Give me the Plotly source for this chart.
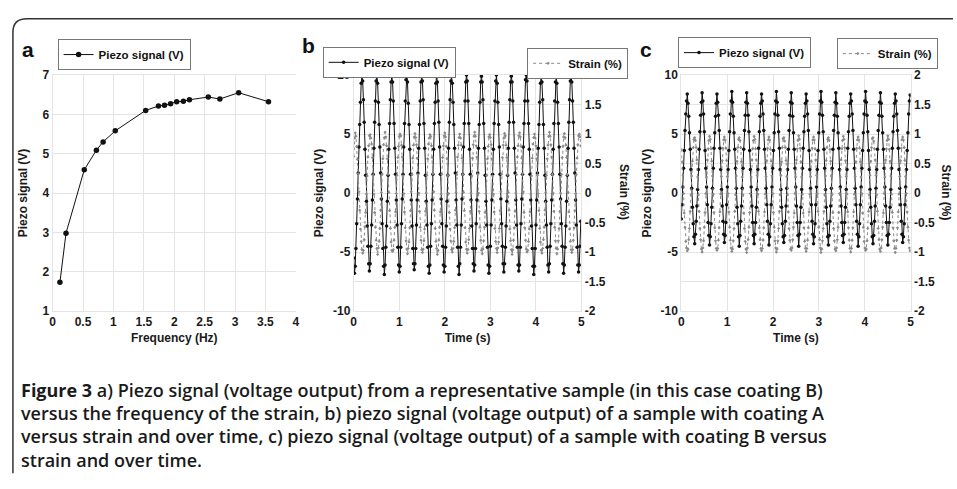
import plotly.graph_objects as go

# ---------------- data ----------------
# panel a: piezo signal vs strain frequency
freq_a = [0.12, 0.22, 0.52, 0.72, 0.83, 1.03, 1.53, 1.74, 1.84, 1.94, 2.04, 2.15, 2.25, 2.56, 2.75, 3.06, 3.55]
piezo_a = [1.73, 2.98, 4.59, 5.09, 5.30, 5.58, 6.10, 6.21, 6.23, 6.27, 6.32, 6.33, 6.37, 6.44, 6.39, 6.55, 6.32]

# panel b (coating A): sampled signals, one row per strain cycle
DT_B = 0.0164   # s between samples
b_piezo_rows = [
    [-5.5, -6.8, -6.2, -4.7, -2.6, -0.5, 1.7, 3.9, 5.8, 7.7, 9.3, 9.9, 9.5, 7.9, 6.0, 3.7, 1.5, -0.7, -2.8, -4.5],
    [-6.0, -6.6, -6.0, -4.5, -2.7, -0.6, 1.6, 3.8, 6.0, 7.8, 9.5, 10.0, 9.3, 7.7, 5.8, 3.9, 1.7, -0.5, -2.6, -4.7],
    [-6.2, -6.9, -6.1, -4.6, -2.8, -0.7, 1.5, 3.7, 5.9, 7.9, 9.4, 9.9, 9.4, 7.8, 5.9, 3.8, 1.6, -0.6, -2.7, -4.6],
    [-6.1, -6.7, -6.2, -4.6, -2.6, -0.5, 1.6, 3.9, 5.9, 7.8, 9.6, 10.0, 9.4, 7.6, 5.8, 3.7, 1.6, -0.6, -2.8, -4.7],
    [-6.0, -6.5, -6.0, -4.7, -2.7, -0.6, 1.7, 3.8, 5.8, 7.8, 9.4, 9.9, 9.5, 7.9, 5.9, 3.8, 1.5, -0.7, -2.7, -4.6],
    [-6.2, -6.8, -6.1, -4.5, -2.6, -0.6, 1.6, 3.7, 5.9, 7.7, 9.3, 10.0, 9.4, 7.8, 6.0, 3.9, 1.6, -0.5, -2.6, -4.5],
    [-6.1, -6.7, -6.2, -4.6, -2.8, -0.7, 1.5, 3.8, 6.0, 7.9, 9.5, 9.9, 9.3, 7.7, 5.8, 3.8, 1.7, -0.6, -2.7, -4.6],
    [-6.2, -6.9, -6.0, -4.6, -2.7, -0.5, 1.6, 3.9, 5.9, 7.8, 9.4, 10.0, 9.5, 7.8, 5.9, 3.7, 1.6, -0.6, -2.8, -4.7],
    [-6.0, -6.6, -6.1, -4.7, -2.6, -0.6, 1.7, 3.8, 5.8, 7.7, 9.4, 9.9, 9.4, 7.9, 5.9, 3.8, 1.5, -0.7, -2.7, -4.6],
    [-6.1, -6.8, -6.2, -4.5, -2.7, -0.6, 1.6, 3.7, 5.9, 7.8, 9.5, 10.0, 9.3, 7.7, 5.8, 3.9, 1.6, -0.5, -2.6, -4.5],
    [-6.0, -6.7, -6.0, -4.6, -2.8, -0.7, 1.5, 3.8, 6.0, 7.9, 9.4, 9.9, 9.4, 7.8, 6.0, 3.8, 1.7, -0.6, -2.7, -4.6],
    [-6.1, -6.6, -6.1, -4.6, -2.6, -0.5, 1.6, 3.9, 5.9, 7.8, 9.6, 10.0, 9.5, 7.8, 5.9, 3.7, 1.6, -0.6, -2.8, -4.7],
    [-6.2, -6.9, -6.2, -4.7, -2.7, -0.6, 1.7, 3.8, 5.8, 7.7, 9.3, 9.9, 9.4, 7.9, 5.8, 3.8, 1.5, -0.7, -2.7, -4.6],
    [-6.1, -6.7, -6.0, -4.5, -2.6, -0.6, 1.6, 3.7, 5.9, 7.8, 9.4, 10.0, 9.3, 7.7, 5.9, 3.9, 1.6, -0.5, -2.6, -4.5],
    [-6.0, -6.8, -6.1, -4.6, -2.8, -0.7, 1.5, 3.8, 6.0, 7.9, 9.5, 9.9, 9.4, 7.8, 6.0, 3.8, 1.7, -0.6, -2.7, -4.6],
    [-6.1, -6.7, -6.1, -4.5, -2.4],
]
b_strain_rows = [
    [0.62, 0.93, 1.02, 0.96, 0.79, 0.57, 0.33, 0.02, -0.29, -0.61, -0.82, -0.96, -1.02, -0.97, -0.79, -0.57, -0.33, -0.02, 0.29, 0.61],
    [0.80, 0.97, 0.99, 0.93, 0.83, 0.60, 0.30, -0.02, -0.33, -0.58, -0.80, -0.94, -1.04, -0.93, -0.82, -0.60, -0.29, 0.01, 0.32, 0.58],
    [0.82, 0.94, 1.03, 0.95, 0.80, 0.58, 0.32, 0.01, -0.30, -0.60, -0.83, -0.97, -0.99, -0.96, -0.80, -0.58, -0.32, -0.01, 0.30, 0.60],
    [0.79, 0.96, 1.00, 0.97, 0.81, 0.61, 0.29, -0.01, -0.32, -0.59, -0.81, -0.95, -1.03, -0.94, -0.83, -0.59, -0.30, 0.02, 0.31, 0.59],
    [0.81, 0.95, 1.01, 0.94, 0.82, 0.59, 0.31, 0.00, -0.31, -0.58, -0.80, -0.96, -1.01, -0.95, -0.81, -0.61, -0.31, 0.00, 0.30, 0.58],
    [0.83, 0.93, 0.99, 0.96, 0.80, 0.60, 0.33, 0.02, -0.29, -0.60, -0.82, -0.94, -1.04, -0.97, -0.80, -0.58, -0.32, -0.02, 0.32, 0.60],
    [0.80, 0.97, 1.02, 0.95, 0.79, 0.58, 0.30, -0.01, -0.33, -0.61, -0.81, -0.96, -1.00, -0.94, -0.82, -0.59, -0.29, 0.01, 0.31, 0.61],
    [0.81, 0.94, 1.00, 0.93, 0.81, 0.59, 0.31, 0.01, -0.30, -0.59, -0.83, -0.95, -1.02, -0.96, -0.79, -0.60, -0.31, 0.00, 0.29, 0.59],
    [0.82, 0.96, 1.03, 0.96, 0.80, 0.61, 0.32, 0.00, -0.31, -0.58, -0.80, -0.97, -1.03, -0.95, -0.81, -0.58, -0.33, -0.01, 0.30, 0.58],
    [0.79, 0.95, 0.99, 0.94, 0.82, 0.58, 0.29, -0.02, -0.32, -0.60, -0.82, -0.94, -1.01, -0.93, -0.83, -0.60, -0.30, 0.02, 0.32, 0.60],
    [0.81, 0.93, 1.01, 0.97, 0.81, 0.60, 0.31, 0.01, -0.29, -0.61, -0.81, -0.96, -1.04, -0.96, -0.80, -0.59, -0.31, 0.00, 0.31, 0.61],
    [0.80, 0.97, 1.02, 0.95, 0.79, 0.59, 0.33, 0.02, -0.33, -0.59, -0.80, -0.95, -1.00, -0.97, -0.82, -0.61, -0.32, -0.02, 0.29, 0.59],
    [0.83, 0.94, 1.00, 0.93, 0.80, 0.58, 0.30, -0.01, -0.30, -0.60, -0.83, -0.97, -1.02, -0.94, -0.79, -0.58, -0.29, 0.01, 0.30, 0.58],
    [0.81, 0.96, 1.03, 0.96, 0.82, 0.61, 0.32, 0.00, -0.31, -0.58, -0.81, -0.94, -1.03, -0.95, -0.81, -0.60, -0.31, 0.00, 0.32, 0.60],
    [0.79, 0.95, 1.01, 0.94, 0.81, 0.60, 0.31, 0.01, -0.32, -0.61, -0.82, -0.96, -1.01, -0.96, -0.80, -0.59, -0.30, -0.01, 0.31, 0.59],
    [0.82, 0.97, 1.00, 0.95, 0.80],
]

# panel c (coating B)
DT_C = 0.0162
c_piezo_rows = [
    [-2.2, -1.0, 0.5, 2.1, 3.6, 5.3, 6.7, 7.8, 8.4, 7.6, 6.5, 5.1, 3.7, 2.0, 0.4, -1.2, -2.6, -3.7, -4.3, -3.5],
    [-2.4, -1.1, 0.3, 2.0, 3.7, 5.2, 6.6, 7.7, 8.5, 7.8, 6.7, 5.2, 3.6, 2.1, 0.5, -1.0, -2.5, -3.6, -4.4, -3.7],
    [-2.6, -1.2, 0.4, 2.1, 3.8, 5.1, 6.5, 7.6, 8.4, 7.7, 6.6, 5.3, 3.8, 2.0, 0.3, -1.1, -2.4, -3.5, -4.2, -3.6],
    [-2.5, -1.0, 0.5, 2.0, 3.6, 5.2, 6.7, 7.8, 8.6, 7.7, 6.5, 5.1, 3.7, 2.1, 0.4, -1.2, -2.6, -3.7, -4.5, -3.6],
    [-2.4, -1.1, 0.4, 2.1, 3.7, 5.3, 6.6, 7.7, 8.5, 7.6, 6.6, 5.2, 3.6, 2.0, 0.5, -1.1, -2.5, -3.6, -4.3, -3.5],
    [-2.5, -1.2, 0.3, 2.0, 3.8, 5.2, 6.5, 7.6, 8.4, 7.8, 6.7, 5.3, 3.7, 2.1, 0.4, -1.0, -2.4, -3.5, -4.4, -3.7],
    [-2.6, -1.0, 0.5, 2.1, 3.6, 5.1, 6.7, 7.8, 8.6, 7.7, 6.6, 5.2, 3.8, 2.0, 0.3, -1.2, -2.6, -3.7, -4.2, -3.6],
    [-2.4, -1.1, 0.4, 2.0, 3.7, 5.3, 6.6, 7.7, 8.5, 7.6, 6.5, 5.1, 3.7, 2.1, 0.5, -1.1, -2.5, -3.6, -4.5, -3.5],
    [-2.5, -1.2, 0.3, 2.1, 3.8, 5.2, 6.5, 7.6, 8.4, 7.8, 6.7, 5.3, 3.6, 2.0, 0.4, -1.0, -2.4, -3.5, -4.3, -3.7],
    [-2.6, -1.0, 0.5, 2.0, 3.6, 5.1, 6.7, 7.8, 8.6, 7.7, 6.6, 5.2, 3.7, 2.1, 0.3, -1.2, -2.6, -3.7, -4.4, -3.6],
    [-2.4, -1.1, 0.4, 2.1, 3.7, 5.3, 6.6, 7.7, 8.5, 7.6, 6.5, 5.1, 3.8, 2.0, 0.5, -1.1, -2.5, -3.6, -4.2, -3.5],
    [-2.5, -1.2, 0.3, 2.0, 3.8, 5.2, 6.5, 7.6, 8.4, 7.8, 6.7, 5.3, 3.7, 2.1, 0.4, -1.0, -2.4, -3.5, -4.5, -3.7],
    [-2.6, -1.0, 0.5, 2.1, 3.6, 5.1, 6.7, 7.8, 8.6, 7.7, 6.6, 5.2, 3.6, 2.0, 0.3, -1.2, -2.6, -3.7, -4.3, -3.6],
    [-2.4, -1.1, 0.4, 2.0, 3.7, 5.3, 6.6, 7.7, 8.5, 7.6, 6.5, 5.1, 3.7, 2.1, 0.5, -1.1, -2.5, -3.6, -4.4, -3.5],
    [-2.5, -1.2, 0.3, 2.1, 3.8, 5.2, 6.5, 7.6, 8.4, 7.8, 6.7, 5.3, 3.8, 2.0, 0.4, -1.0, -2.4, -3.5, -4.2, -3.7],
    [-2.6, -1.0, 0.5, 2.0, 3.6, 5.1, 6.7, 7.8, 8.3],
]
c_strain_rows = [
    [0.74, 0.53, 0.30, -0.01, -0.34, -0.58, -0.82, -0.93, -0.98, -0.95, -0.79, -0.60, -0.31, -0.03, 0.29, 0.54, 0.77, 0.91, 0.94, 0.89],
    [0.77, 0.56, 0.27, -0.03, -0.31, -0.60, -0.79, -0.95, -1.00, -0.93, -0.81, -0.58, -0.33, -0.01, 0.27, 0.56, 0.75, 0.89, 0.96, 0.91],
    [0.75, 0.54, 0.29, -0.02, -0.33, -0.59, -0.81, -0.94, -0.97, -0.94, -0.80, -0.59, -0.32, -0.02, 0.28, 0.55, 0.76, 0.90, 0.95, 0.90],
    [0.76, 0.55, 0.28, -0.01, -0.32, -0.58, -0.80, -0.93, -0.99, -0.95, -0.81, -0.60, -0.31, -0.03, 0.29, 0.54, 0.77, 0.91, 0.94, 0.89],
    [0.77, 0.53, 0.27, -0.03, -0.34, -0.60, -0.82, -0.95, -1.01, -0.93, -0.79, -0.58, -0.33, -0.01, 0.27, 0.56, 0.75, 0.89, 0.96, 0.91],
    [0.75, 0.56, 0.30, -0.02, -0.31, -0.59, -0.79, -0.94, -0.98, -0.94, -0.80, -0.59, -0.32, -0.02, 0.28, 0.55, 0.76, 0.90, 0.95, 0.90],
    [0.74, 0.54, 0.29, -0.01, -0.33, -0.58, -0.81, -0.93, -1.00, -0.95, -0.81, -0.60, -0.31, -0.03, 0.30, 0.53, 0.77, 0.92, 0.94, 0.88],
    [0.77, 0.55, 0.28, -0.03, -0.32, -0.60, -0.80, -0.95, -0.97, -0.93, -0.79, -0.58, -0.34, -0.01, 0.27, 0.56, 0.75, 0.89, 0.97, 0.91],
    [0.76, 0.53, 0.27, -0.02, -0.34, -0.59, -0.82, -0.94, -0.99, -0.94, -0.80, -0.59, -0.32, -0.02, 0.28, 0.54, 0.76, 0.90, 0.95, 0.90],
    [0.75, 0.56, 0.30, -0.01, -0.31, -0.58, -0.79, -0.93, -1.01, -0.95, -0.81, -0.60, -0.31, -0.03, 0.29, 0.55, 0.77, 0.91, 0.94, 0.89],
    [0.74, 0.54, 0.29, -0.03, -0.33, -0.60, -0.81, -0.95, -0.98, -0.93, -0.79, -0.58, -0.33, -0.01, 0.27, 0.56, 0.75, 0.89, 0.96, 0.91],
    [0.77, 0.55, 0.28, -0.02, -0.32, -0.59, -0.80, -0.94, -1.00, -0.94, -0.80, -0.59, -0.32, -0.02, 0.28, 0.53, 0.76, 0.90, 0.95, 0.90],
    [0.76, 0.53, 0.27, -0.01, -0.34, -0.58, -0.82, -0.93, -0.97, -0.95, -0.81, -0.60, -0.31, -0.03, 0.30, 0.54, 0.77, 0.92, 0.94, 0.88],
    [0.75, 0.56, 0.30, -0.03, -0.31, -0.60, -0.79, -0.95, -0.99, -0.93, -0.79, -0.58, -0.34, -0.01, 0.27, 0.56, 0.75, 0.89, 0.97, 0.91],
    [0.74, 0.54, 0.29, -0.02, -0.33, -0.59, -0.81, -0.94, -1.01, -0.94, -0.80, -0.59, -0.32, -0.02, 0.28, 0.55, 0.76, 0.90, 0.95, 0.90],
    [0.77, 0.55, 0.28, -0.01, -0.32, -0.58, -0.80, -0.93, -0.98],
]

b_piezo = [v for row in b_piezo_rows for v in row]
b_strain = [v for row in b_strain_rows for v in row]
c_piezo = [v for row in c_piezo_rows for v in row]
c_strain = [v for row in c_strain_rows for v in row]

a_xticks = [0, 0.5, 1, 1.5, 2, 2.5, 3, 3.5, 4]
a_yticks = [1, 2, 3, 4, 5, 6, 7]
time_ticks = [0, 1, 2, 3, 4, 5]
piezo_ticks = [-10, -5, 0, 5, 10]
strain_ticks = [-2, -1.5, -1, -0.5, 0, 0.5, 1, 1.5, 2]

caption_lines = [
    "<b>Figure 3</b> a) Piezo signal (voltage output) from a representative sample (in this case coating B)",
    "versus the frequency of the strain, b) piezo signal (voltage output) of a sample with coating A",
    "versus strain and over time, c) piezo signal (voltage output) of a sample with coating B versus",
    "strain and over time.",
]

# ---------------- layout helpers ----------------
W, H = 957, 489
def px(p):
    return p / W
def py(p):
    return 1 - p / H

AX_FONT = dict(family="Liberation Sans, Arial", size=12, color="#1a1a1a", weight=700)
GRID = "#e4e4e4"
PLOT_Y = [py(313), py(70)]

def xax(dom, rng, ticks, title, anchor):
    return dict(domain=dom, range=rng, tickvals=ticks, ticktext=[f"{t:g}" for t in ticks],
                showgrid=True, gridcolor=GRID, gridwidth=1, zeroline=False,
                showline=True, linecolor=GRID, mirror=True, ticks="",
                tickfont=AX_FONT, anchor=anchor,
                title=dict(text=title, font=AX_FONT, standoff=5))

def yax(rng, ticks, title, anchor, grid=True, standoff=6):
    return dict(domain=PLOT_Y, range=rng, tickvals=ticks, ticktext=[f"{t:g}" for t in ticks],
                showgrid=grid, gridcolor=GRID, gridwidth=1, zeroline=False,
                showline=True, linecolor=GRID, ticks="", tickfont=AX_FONT, anchor=anchor,
                title=dict(text=title, font=AX_FONT, standoff=standoff))

PIEZO_STYLE = dict(mode="lines+markers", line=dict(color="#111111", width=1),
                   marker=dict(color="#111111", size=3.5, symbol="circle"))
STRAIN_STYLE = dict(mode="lines+markers", line=dict(color="#8a8a8a", width=1, dash="dot"),
                    marker=dict(color="#8a8a8a", size=2.5, symbol="diamond"))

fig = go.Figure()
fig.add_trace(go.Scatter(x=freq_a, y=piezo_a, name="Piezo signal (V)", xaxis="x", yaxis="y",
                         mode="lines+markers", line=dict(color="#111111", width=1),
                         marker=dict(color="#111111", size=5.5), legend="legend"))
fig.add_trace(go.Scatter(y=b_piezo, x0=0, dx=DT_B, name="Piezo signal (V)", xaxis="x2", yaxis="y2",
                         legend="legend2", **PIEZO_STYLE))
fig.add_trace(go.Scatter(y=b_strain, x0=0, dx=DT_B, name="Strain (%)", xaxis="x2", yaxis="y3",
                         legend="legend3", **STRAIN_STYLE))
fig.add_trace(go.Scatter(y=c_piezo, x0=0, dx=DT_C, name="Piezo signal (V)", xaxis="x3", yaxis="y4",
                         legend="legend4", **PIEZO_STYLE))
fig.add_trace(go.Scatter(y=c_strain, x0=0, dx=DT_C, name="Strain (%)", xaxis="x3", yaxis="y5",
                         legend="legend5", **STRAIN_STYLE))

def legend_at(x0, y0):
    return dict(x=px(x0), y=py(y0), xanchor="left", yanchor="top", xref="paper", yref="paper",
                bgcolor="white", bordercolor="#777777", borderwidth=1,
                font=dict(family="Liberation Sans, Arial", size=11.5, color="#111111", weight=700),
                itemwidth=30, tracegroupgap=0)

layout = dict(
    width=W, height=H, autosize=False, margin=dict(l=0, r=0, t=0, b=0),
    paper_bgcolor="white", plot_bgcolor="white", showlegend=True,
    xaxis=xax([px(50), px(295)], [0, 4], a_xticks, "Frequency (Hz)", "y"),
    yaxis=yax([1, 7], a_yticks, "Piezo signal (V)", "x", standoff=12),
    xaxis2=xax([px(353.3), px(582.7)], [0, 5], time_ticks, "Time (s)", "y2"),
    yaxis2=yax([-10, 10], piezo_ticks, "Piezo signal (V)", "x2", grid=False),
    yaxis3=dict(yax([-2, 2], strain_ticks, "", "x2"), overlaying="y2", side="right"),
    xaxis3=xax([px(683.3), px(914.3)], [0, 5], time_ticks, "Time (s)", "y4"),
    yaxis4=yax([-10, 10], piezo_ticks, "Piezo signal (V)", "x3", grid=False),
    yaxis5=dict(yax([-2, 2], strain_ticks, "", "x3"), overlaying="y4", side="right"),
    legend=legend_at(55, 33),
    legend2=legend_at(322, 41),
    legend3=legend_at(528, 42),
    legend4=legend_at(680, 31),
    legend5=legend_at(840, 32),
)
fig.update_layout(**layout)

ann = []
for letter, (lx, ly) in {"a": (25, 44), "b": (308, 40), "c": (648, 44)}.items():
    ann.append(dict(text=letter, x=px(lx), y=py(ly), xref="paper", yref="paper", showarrow=False,
                    xanchor="center", yanchor="middle",
                    font=dict(family="Liberation Sans, Arial", size=21, color="#111111", weight=700)))
for tx in (626, 950):
    ann.append(dict(text="Strain (%)", x=px(tx), y=py(191), xref="paper", yref="paper", showarrow=False,
                    xanchor="center", yanchor="middle", textangle=90, font=AX_FONT))
for i, line in enumerate(caption_lines):
    ann.append(dict(text=line, x=px(16), y=py(394 + 24 * i), xref="paper", yref="paper",
                    xanchor="left", yanchor="middle", showarrow=False, align="left",
                    font=dict(family="Open Sans", size=18, color="#1a1a1a", weight=600)))
fig.update_layout(annotations=ann)

fig.add_shape(type="path", xref="paper", yref="paper",
              path=f"M {px(10)} {py(480)} L {px(10)} {py(26)} Q {px(10)} {py(12)} {px(24)} {py(12)} L 1 {py(12)}",
              line=dict(color="#333333", width=1.5))

fig.write_html("out.html", config={"displayModeBar": False},
               post_script="document.body.style.margin='0px';document.body.style.overflow='hidden';")
